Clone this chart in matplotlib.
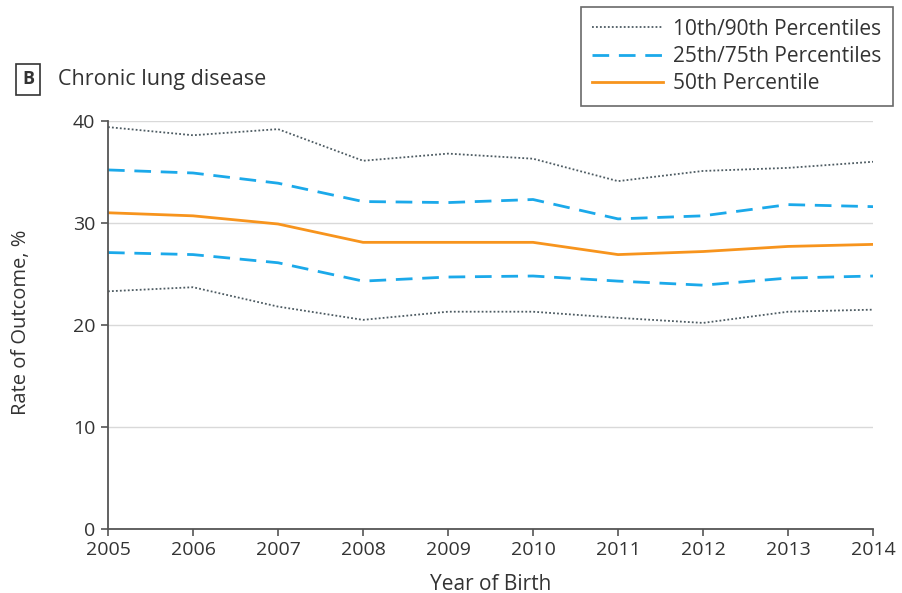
import numpy as np
import matplotlib
matplotlib.use("Agg")
import matplotlib.pyplot as plt

plt.rcParams['font.family'] = ['Open Sans', 'DejaVu Sans']

years = [2005, 2006, 2007, 2008, 2009, 2010, 2011, 2012, 2013, 2014]
p90 = [39.4, 38.6, 39.2, 36.1, 36.8, 36.3, 34.1, 35.1, 35.4, 36.0]
p75 = [35.2, 34.9, 33.9, 32.1, 32.0, 32.3, 30.4, 30.7, 31.8, 31.6]
p50 = [31.0, 30.7, 29.9, 28.1, 28.1, 28.1, 26.9, 27.2, 27.7, 27.9]
p25 = [27.1, 26.9, 26.1, 24.3, 24.7, 24.8, 24.3, 23.9, 24.6, 24.8]
p10 = [23.3, 23.7, 21.8, 20.5, 21.3, 21.3, 20.7, 20.2, 21.3, 21.5]

txt = '#333333'
c_dot = '#4d5b62'
c_blue = '#1ba9ea'
c_orange = '#f7941d'

fig = plt.figure(figsize=(9.03, 5.93), dpi=100)
ax = fig.add_axes([0.1196, 0.108, 0.8472, 0.688])

l1, = ax.plot(years, p90, color=c_dot, lw=1.3, ls=(0, (1, 1.2)))
ax.plot(years, p10, color=c_dot, lw=1.3, ls=(0, (1, 1.2)))
l2, = ax.plot(years, p75, color=c_blue, lw=2, ls=(0, (6, 3.5)))
ax.plot(years, p25, color=c_blue, lw=2, ls=(0, (6, 3.5)))
l3, = ax.plot(years, p50, color=c_orange, lw=2)

ax.set_xlim(2005, 2014)
ax.set_ylim(0, 40)
ax.set_xticks(years)
ax.set_yticks([0, 10, 20, 30, 40])
ax.grid(axis='y', color='#d9d9d9', lw=1)
ax.set_axisbelow(True)
for s in ['top', 'right']:
    ax.spines[s].set_visible(False)
for s in ['left', 'bottom']:
    ax.spines[s].set_color('#555555')
    ax.spines[s].set_linewidth(1.3)
ax.tick_params(colors='#555555', labelcolor=txt, labelsize=14, length=5, width=1.2)
ax.tick_params(axis='x', pad=4)
ax.tick_params(axis='y', pad=4)
ax.set_xlabel('Year of Birth', fontsize=15, color=txt)
ax.set_ylabel('Rate of Outcome, %', fontsize=14.5, color=txt)
ax.xaxis.set_label_coords(0.5, -0.11)
ax.yaxis.set_label_coords(-0.100, 0.507)

leg = fig.legend([l1, l2, l3],
                 ['10th/90th Percentiles', '25th/75th Percentiles', '50th Percentile'],
                 loc='upper right', bbox_to_anchor=(0.989, 0.988), borderaxespad=0,
                 fontsize=15, frameon=True, fancybox=False, edgecolor='#444444',
                 handlelength=3.4, handletextpad=0.5, labelspacing=0.3, borderpad=0.55)
leg.get_frame().set_linewidth(1.2)
for t in leg.get_texts():
    t.set_color(txt)

fig.text(0.031, 0.866, 'B', fontsize=13, fontweight='bold', color=txt,
         ha='center', va='center',
         bbox=dict(boxstyle='square,pad=0.35', fc='white', ec='#333333', lw=1.2))
fig.text(0.064, 0.866, 'Chronic lung disease', fontsize=15.5, color=txt,
         ha='left', va='center')

fig.savefig('out.png', dpi=100)
